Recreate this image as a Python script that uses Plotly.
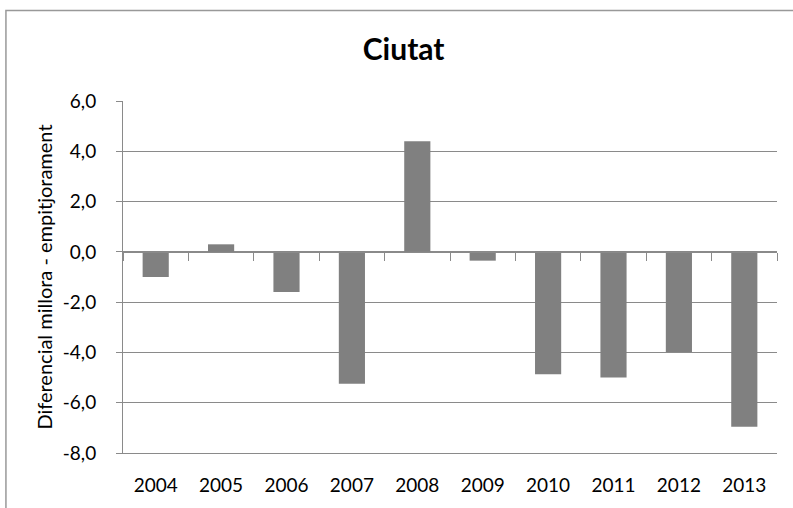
import plotly.graph_objects as go

years = ["2004", "2005", "2006", "2007", "2008", "2009", "2010", "2011", "2012", "2013"]
diferencial = [-1.0, 0.3, -1.6, -5.25, 4.4, -0.35, -4.87, -5.0, -3.98, -6.96]

y_tick_vals = [-8, -6, -4, -2, 0, 2, 4, 6]
y_tick_text = ["-8,0", "-6,0", "-4,0", "-2,0", "0,0", "2,0", "4,0", "6,0"]

FONT = "Lato, 'Open Sans', sans-serif"
GRID = "#8a8a8a"
FRAME = "#999999"

fig = go.Figure()
fig.add_trace(go.Bar(x=years, y=diferencial, marker=dict(color="#808080", line=dict(width=0)),
                     showlegend=False, hoverinfo="x+y"))
# invisible trace so the zero-line category axis gets drawn
fig.add_trace(go.Scatter(x=years, y=[0] * len(years), xaxis="x2", mode="markers",
                         marker=dict(opacity=0), showlegend=False, hoverinfo="skip"))

ymin, ymax = y_tick_vals[0], y_tick_vals[-1]
zero_pos = (0 - ymin) / (ymax - ymin)

fig.update_layout(
    width=793, height=508,
    paper_bgcolor="white", plot_bgcolor="white",
    margin=dict(l=123, r=16, t=101, b=55),
    bargap=0.6,
    font=dict(family=FONT, size=19, color="#000000"),
    title=dict(text="<b>Ciutat</b>", x=0.509, xanchor="center", y=0.902, yanchor="middle",
               font=dict(family=FONT, size=30, color="#000000")),
    xaxis=dict(type="category", range=[-0.5, len(years) - 0.5], showgrid=False,
               showline=True, linecolor=GRID, linewidth=1, ticks="",
               tickfont=dict(size=19), zeroline=False, ticklabelstandoff=15),
    xaxis2=dict(type="category", overlaying="x", anchor="free", position=zero_pos,
                range=[-0.5, len(years) - 0.5], showgrid=False, showticklabels=False,
                showline=True, linecolor=GRID, linewidth=1,
                ticks="outside", ticklen=8, tickcolor=GRID, tickson="boundaries"),
    yaxis=dict(range=[ymin, ymax], tickvals=y_tick_vals, ticktext=y_tick_text,
               showgrid=True, gridcolor=GRID, gridwidth=1, zeroline=False,
               showline=True, linecolor=GRID, linewidth=1,
               ticks="outside", ticklen=6, tickcolor=GRID,
               tickfont=dict(size=19), ticklabelstandoff=16,
               title=dict(text="Diferencial millora - empitjorament", font=dict(size=20), standoff=4)),
    # outer chart frame (only top and left edges fall inside the window)
    shapes=[
        dict(type="path", xref="paper", yref="paper",
             path="M -0.179,-0.4 L -0.179,1.257 L 1.05,1.257",
             line=dict(color=FRAME, width=1.5), layer="above"),
    ],
)

fig.write_html("out.html", config={"displayModeBar": False},
               post_script="document.body.style.margin='0';")
